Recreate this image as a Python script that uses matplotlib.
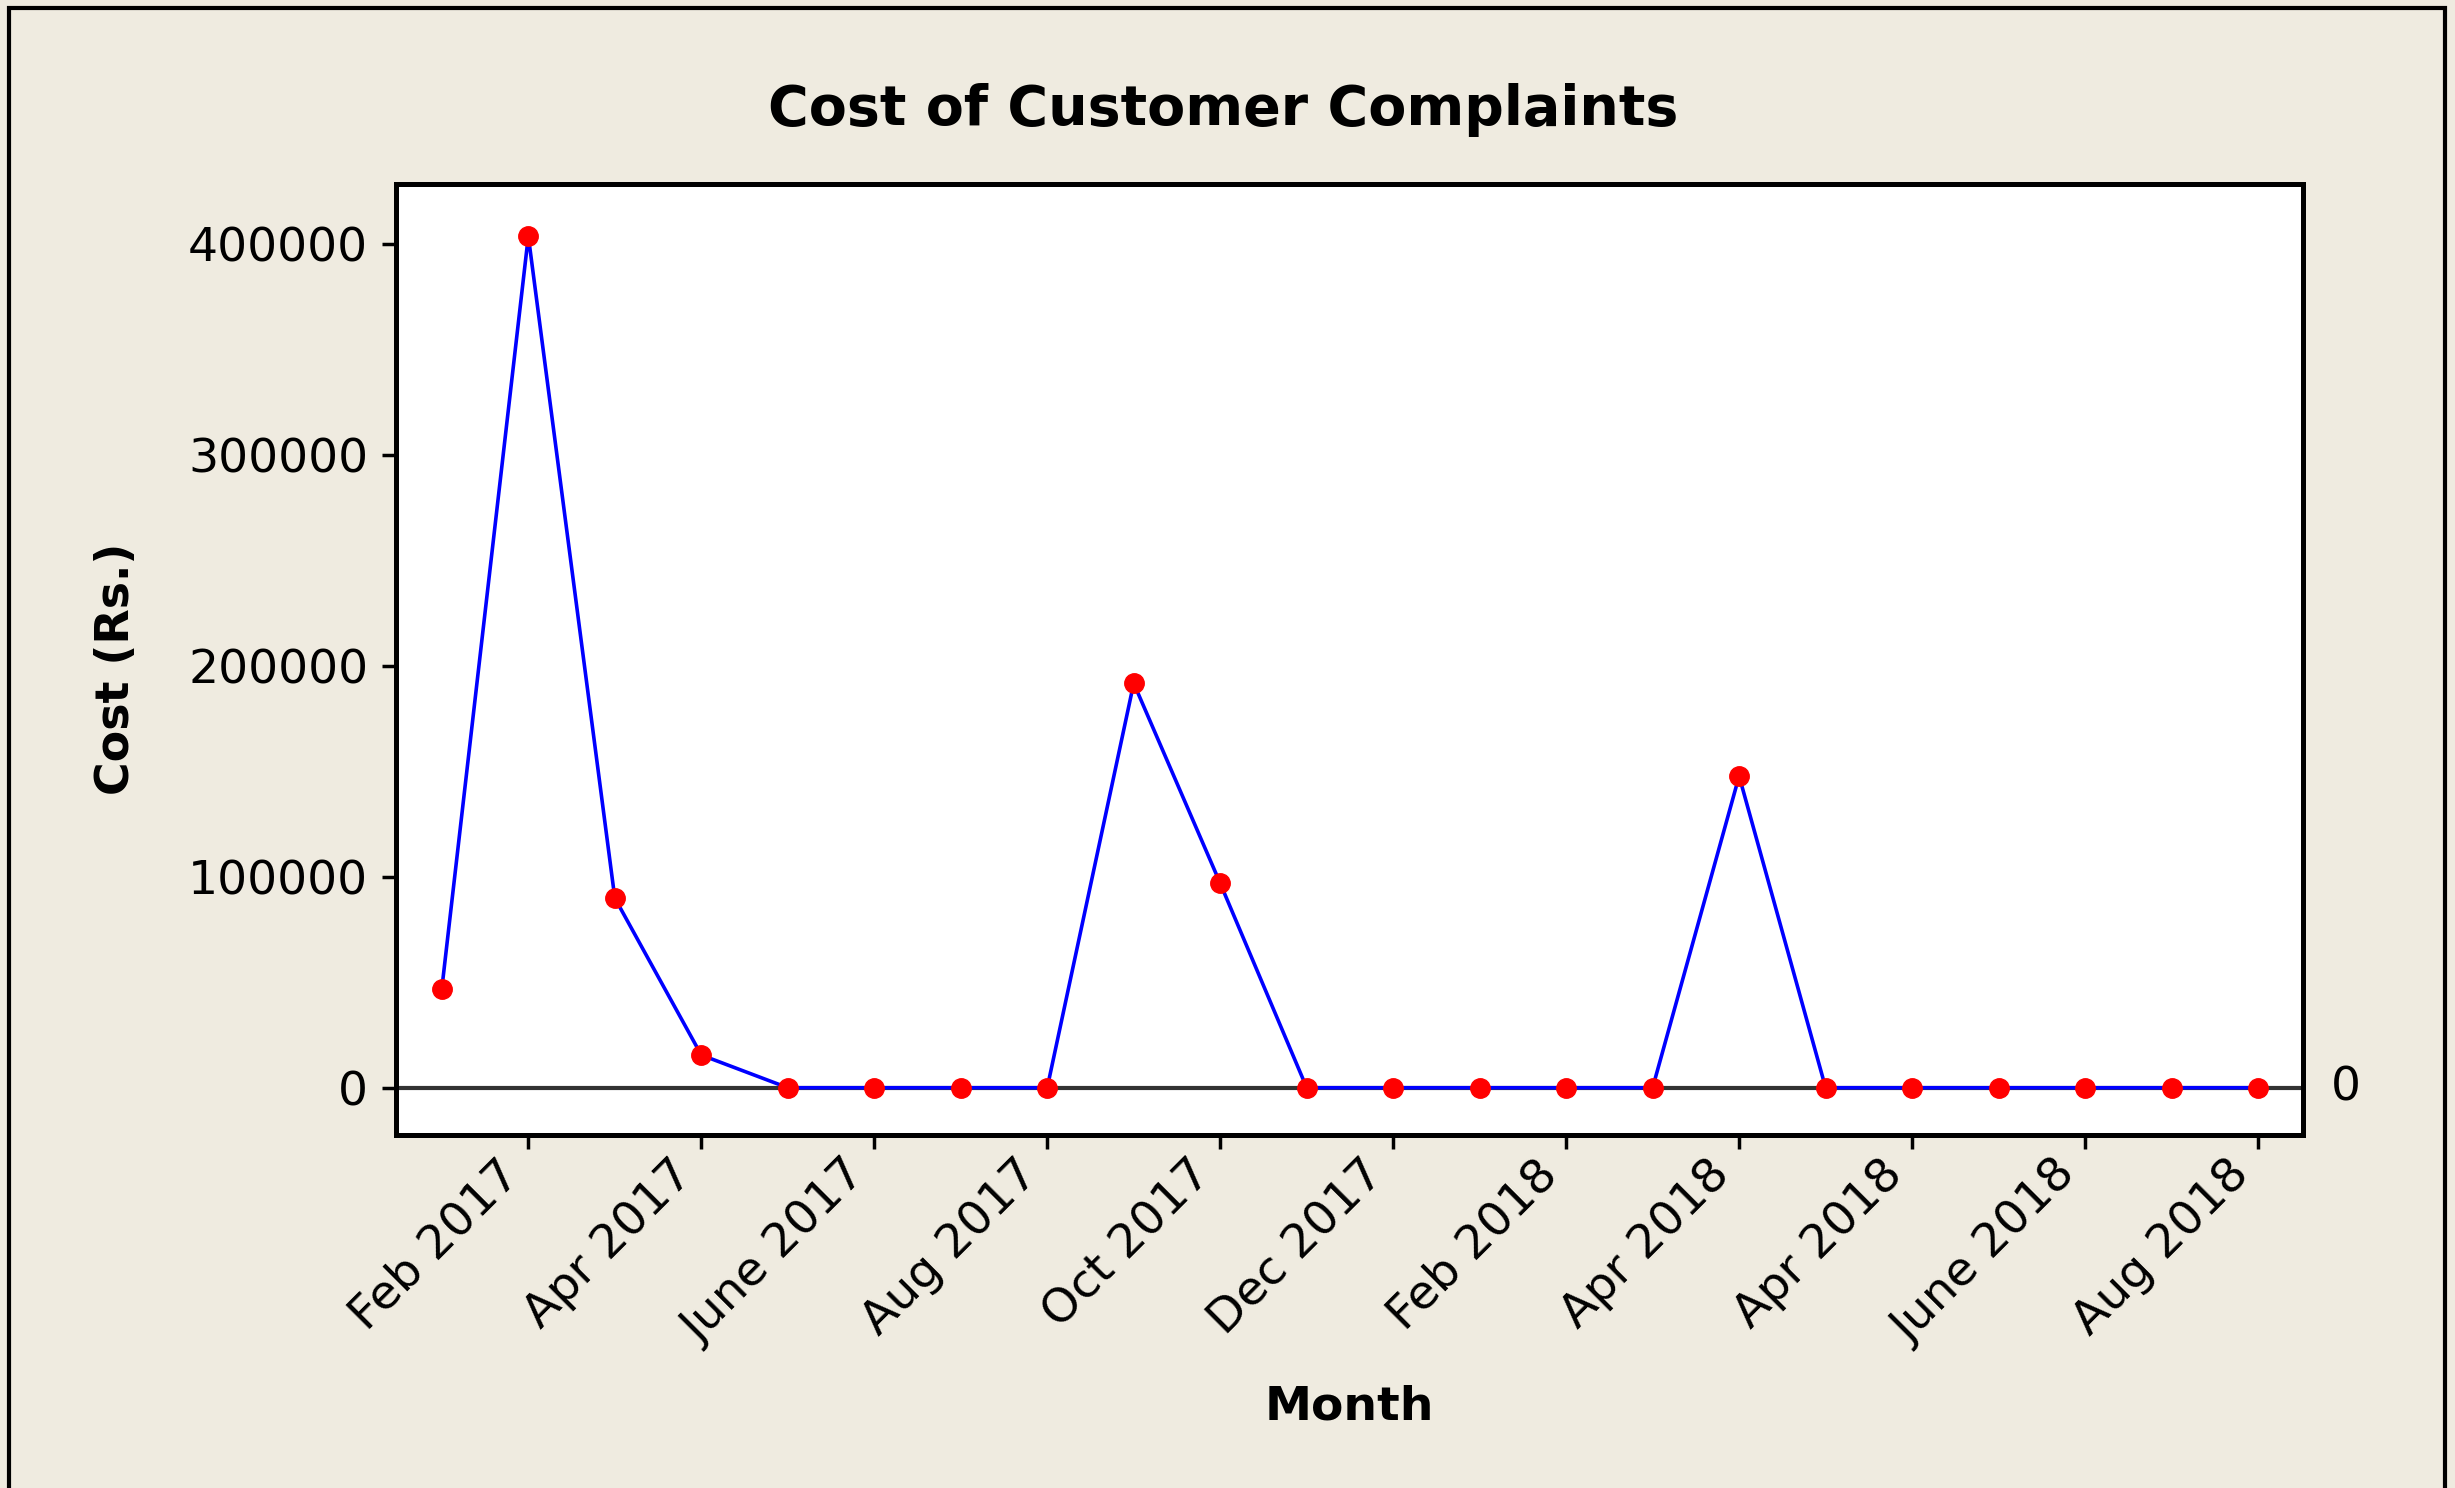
import numpy as np
import matplotlib
matplotlib.use('Agg')
import matplotlib.pyplot as plt
import matplotlib.patches as patches
import matplotlib.transforms as mtransforms

# data (Rs.)
cost = [47000, 403600, 89900, 15500, 0, 0, 0, 0, 191700, 96900, 0,
        0, 0, 0, 0, 147700, 0, 0, 0, 0, 0, 0]
tick_labels = ['Feb 2017', 'Apr 2017', 'June 2017', 'Aug 2017', 'Oct 2017',
               'Dec 2017', 'Feb 2018', 'Apr 2018', 'Apr 2018', 'June 2018',
               'Aug 2018']
y_ticks = [0, 100000, 200000, 300000, 400000]
ref_value = 0

BG = '#EFEBE0'
W, H = 2455, 1488

plt.rcParams['font.family'] = ['DejaVu Sans']

fig = plt.figure(figsize=(W / 100, H / 100), dpi=100, facecolor=BG)
ax = fig.add_axes([396 / W, 1 - 1135 / H, (2303 - 396) / W, (1135 - 184) / H])
ax.set_facecolor('white')

x = np.arange(len(cost))
ax.axhline(ref_value, color='#333333', lw=3, zorder=1)
ax.plot(x, cost, color='blue', lw=2.6, marker='o', ms=14,
        mfc='red', mec='red', zorder=2)

ax.set_xlim(-0.53, 21.52)
ax.set_ylim(-22400, 428300)

ax.set_xticks(x[1::2])
ax.set_xticklabels(tick_labels, rotation=45, ha='right', fontsize=34)
ax.set_yticks(y_ticks)
ax.set_yticklabels([str(v) for v in y_ticks], fontsize=34)
ax.tick_params(direction='out', length=10, width=2.5, colors='black')
ax.tick_params(axis='y', pad=10)
ax.tick_params(axis='x', pad=2)

for s in ax.spines.values():
    s.set_linewidth(3.6)

ax.set_ylabel('Cost (Rs.)', fontsize=33, fontweight='bold')
ax.yaxis.set_label_coords(-0.135, 0.49)
ax.set_xlabel('Month', fontsize=34, fontweight='bold')
ax.xaxis.set_label_coords(0.5, -0.262)

# reference line label on the right
trans = mtransforms.blended_transform_factory(ax.transAxes, ax.transData)
ax.text(1.0225, ref_value, str(ref_value), transform=trans, ha='center',
        va='center', fontsize=34)

fig.text(1223 / W, 1 - 110 / H, 'Cost of Customer Complaints', ha='center',
         va='center', fontsize=40, fontweight='bold')

# outer frame
border = patches.Rectangle((9 / W, -0.05), (2445 - 9) / W, 1.05 - 8 / H,
                           transform=fig.transFigure, fill=False,
                           edgecolor='black', lw=3)
fig.add_artist(border)

fig.savefig('out.png', dpi=100, facecolor=BG)
